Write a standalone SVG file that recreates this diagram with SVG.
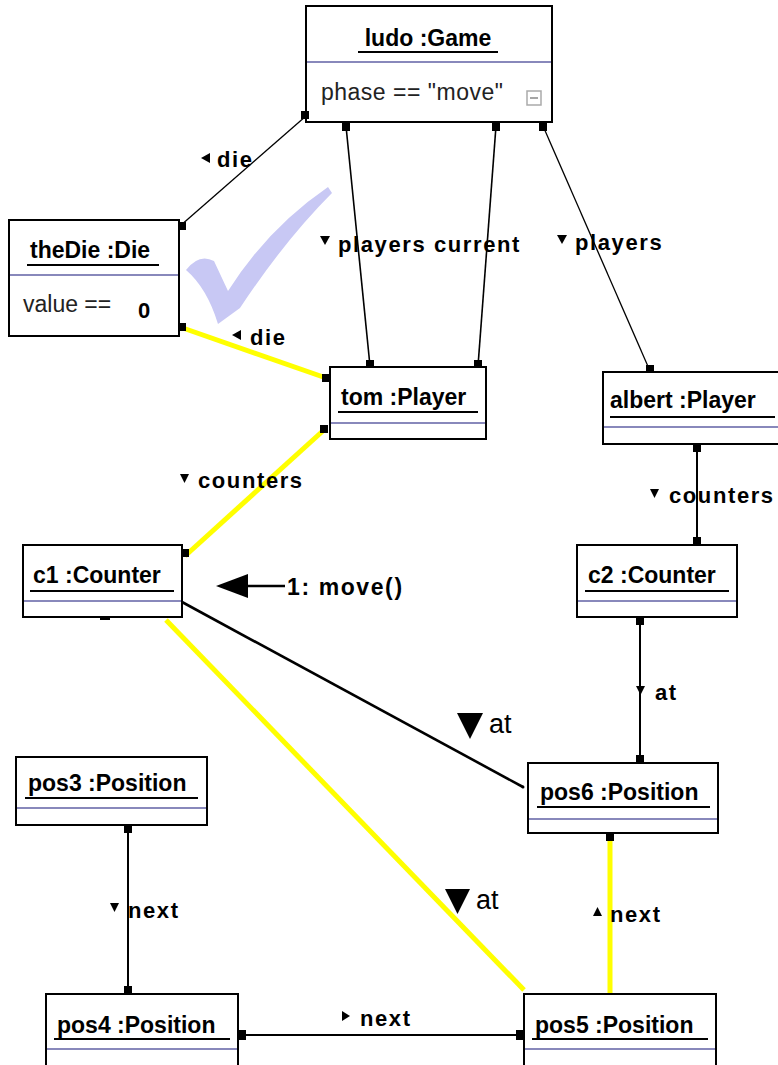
<svg xmlns="http://www.w3.org/2000/svg" width="778" height="1065" viewBox="0 0 778 1065">
<style>
.box{fill:#fff;stroke:#000;stroke-width:2}
.div{stroke:#8888bb;stroke-width:2}
.ul{stroke:#000;stroke-width:2}
.title{font-family:"Liberation Sans",Arial,sans-serif;font-weight:bold;font-size:23px;fill:#000}
.body{font-family:"Liberation Sans",Arial,sans-serif;font-size:23px;fill:#222}
.lbl{font-family:"Liberation Sans",Arial,sans-serif;font-weight:bold;font-size:22px;letter-spacing:1.6px;fill:#000}
.big{font-family:"Liberation Sans",Arial,sans-serif;font-size:27px;fill:#000}
.thin{stroke:#000;stroke-width:1.3;fill:none}
.blk{stroke:#000;stroke-width:2;fill:none}
.yel{stroke:#ffff00;stroke-width:5;fill:none}
.end{fill:#000}
</style>
<rect width="778" height="1065" fill="#fff"/>
<path d="M186,270 Q199,253 214,261 L228,291 Q268,228 328,187 L332,193 Q285,240 240,308 L218,324 Q207,288 186,270 Z" fill="#c8c8f4"/>
<g id="ludo">
<rect class="box" x="306" y="6" width="246" height="116"/>
<line class="div" x1="307" y1="62" x2="551" y2="62"/>
<text class="title" x="428" y="46" text-anchor="middle">ludo :Game</text>
<line class="ul" x1="358" y1="52" x2="498" y2="52"/>
<text class="body" x="321" y="100" style="letter-spacing:0.5px">phase == "move"</text>
<rect x="527" y="91" width="14" height="14" fill="#fff" stroke="#aaa" stroke-width="1.5"/>
<line x1="530" y1="98" x2="538" y2="98" stroke="#888" stroke-width="1.5"/>
</g>
<g id="theDie">
<rect class="box" x="9" y="220" width="170" height="116"/>
<line class="div" x1="10" y1="275" x2="178" y2="275"/>
<text class="title" x="30" y="258">theDie :Die</text>
<line class="ul" x1="27" y1="265" x2="159" y2="265"/>
<text class="body" x="23" y="312">value ==</text>
<text class="title" x="138" y="318" style="font-size:22px">0</text>
</g>
<g id="tom">
<rect class="box" x="330" y="367" width="156" height="72"/>
<line class="div" x1="331" y1="423" x2="485" y2="423"/>
<text class="title" x="341" y="405">tom :Player</text>
<line class="ul" x1="338" y1="412" x2="478" y2="412"/>
</g>
<g id="albert">
<rect class="box" x="603" y="372" width="180" height="72"/>
<line class="div" x1="604" y1="427" x2="778" y2="427"/>
<text class="title" x="610" y="408">albert :Player</text>
<line class="ul" x1="610" y1="417" x2="775" y2="417"/>
</g>
<g id="c1">
<rect class="box" x="23" y="545" width="159" height="72"/>
<line class="div" x1="24" y1="601" x2="181" y2="601"/>
<text class="title" x="33" y="583">c1 :Counter</text>
<line class="ul" x1="30" y1="591" x2="174" y2="591"/>
</g>
<g id="c2">
<rect class="box" x="577" y="545" width="160" height="72"/>
<line class="div" x1="578" y1="601" x2="736" y2="601"/>
<text class="title" x="588" y="583">c2 :Counter</text>
<line class="ul" x1="585" y1="591" x2="729" y2="591"/>
</g>
<g id="pos3">
<rect class="box" x="16" y="757" width="191" height="68"/>
<line class="div" x1="17" y1="808" x2="206" y2="808"/>
<text class="title" x="28" y="791">pos3 :Position</text>
<line class="ul" x1="25" y1="798" x2="198" y2="798"/>
</g>
<g id="pos6">
<rect class="box" x="528" y="763" width="190" height="70"/>
<line class="div" x1="529" y1="819" x2="717" y2="819"/>
<text class="title" x="540" y="800">pos6 :Position</text>
<line class="ul" x1="537" y1="807" x2="710" y2="807"/>
</g>
<g id="pos4">
<rect class="box" x="46" y="994" width="192" height="80"/>
<line class="div" x1="47" y1="1049" x2="237" y2="1049"/>
<text class="title" x="57" y="1033">pos4 :Position</text>
<line class="ul" x1="54" y1="1039" x2="230" y2="1039"/>
</g>
<g id="pos5">
<rect class="box" x="524" y="994" width="192" height="80"/>
<line class="div" x1="525" y1="1049" x2="715" y2="1049"/>
<text class="title" x="535" y="1033">pos5 :Position</text>
<line class="ul" x1="532" y1="1039" x2="708" y2="1039"/>
</g>
<g id="connectors">
<line class="thin" x1="306" y1="116" x2="180" y2="226"/>
<line class="blk" x1="346" y1="126" x2="370" y2="366" style="stroke-width:1.6"/>
<line class="blk" x1="496" y1="126" x2="478" y2="366" style="stroke-width:1.6"/>
<line class="thin" x1="543" y1="126" x2="650" y2="371"/>
<line class="yel" x1="180" y1="327" x2="329" y2="379"/>
<line class="yel" x1="325" y1="429" x2="185" y2="556"/>
<line class="blk" x1="697" y1="445" x2="697" y2="544"/>
<line class="blk" x1="640" y1="618" x2="640" y2="762"/>
<line class="blk" x1="182" y1="602" x2="523" y2="787" style="stroke-width:2.6"/>
<line class="yel" x1="166" y1="620" x2="524" y2="990"/>
<line class="yel" x1="610" y1="838" x2="610" y2="993"/>
<line class="blk" x1="128" y1="826" x2="128" y2="993"/>
<line class="blk" x1="239" y1="1035" x2="523" y2="1035"/>
<rect class="end" x="301" y="111" width="8" height="8"/>
<rect class="end" x="178" y="222" width="8" height="8"/>
<rect class="end" x="342" y="123" width="8" height="8"/>
<rect class="end" x="366" y="360" width="8" height="8"/>
<rect class="end" x="492" y="123" width="8" height="8"/>
<rect class="end" x="474" y="360" width="8" height="8"/>
<rect class="end" x="539" y="123" width="8" height="8"/>
<rect class="end" x="646" y="365" width="8" height="8"/>
<rect class="end" x="178" y="323" width="8" height="8"/>
<rect class="end" x="322" y="374" width="8" height="8"/>
<rect class="end" x="320" y="425" width="8" height="8"/>
<rect class="end" x="181" y="549" width="8" height="8"/>
<rect class="end" x="693" y="444" width="8" height="8"/>
<rect class="end" x="693" y="537" width="8" height="8"/>
<rect class="end" x="636" y="617" width="8" height="8"/>
<rect class="end" x="636" y="755" width="8" height="8"/>
<rect class="end" x="606" y="833" width="8" height="8"/>
<rect class="end" x="124" y="825" width="8" height="8"/>
<rect class="end" x="124" y="986" width="8" height="8"/>
<rect class="end" x="238" y="1030" width="8" height="10"/>
<rect class="end" x="516" y="1030" width="8" height="10"/>
<rect class="end" x="100" y="617" width="10" height="3"/>
<circle class="end" cx="523" cy="787" r="1.5"/>
</g>
<g id="labels">
<path d="M201,158 L210,153 L210,163 Z" class="end"/>
<text class="lbl" x="217" y="167">die</text>
<path d="M320,236 L330,236 L325,245 Z" class="end"/>
<text class="lbl" x="338" y="252">players current</text>
<path d="M557,235 L567,235 L562,244 Z" class="end"/>
<text class="lbl" x="575" y="250">players</text>
<path d="M232,335 L241,330 L241,340 Z" class="end"/>
<text class="lbl" x="250" y="345">die</text>
<path d="M180,474 L189,474 L184.5,483 Z" class="end"/>
<text class="lbl" x="198" y="488">counters</text>
<path d="M650,489 L659,489 L654.5,498 Z" class="end"/>
<text class="lbl" x="669" y="503">counters</text>
<path d="M636,686 L645,686 L640.5,695 Z" class="end"/>
<text class="lbl" x="655" y="700">at</text>
<path d="M457,713 L483,713 L470,739 Z" class="end"/>
<text class="big" x="489" y="733">at</text>
<path d="M445,889 L470,889 L457.5,914 Z" class="end"/>
<text class="big" x="476" y="909">at</text>
<path d="M110,903 L119,903 L114.5,912 Z" class="end"/>
<text class="lbl" x="128" y="918">next</text>
<path d="M593,916 L602,916 L597.5,907 Z" class="end"/>
<text class="lbl" x="610" y="922">next</text>
<path d="M342,1011 L350,1016 L342,1021 Z" class="end"/>
<text class="lbl" x="360" y="1026">next</text>
<line x1="246" y1="586" x2="285" y2="586" stroke="#000" stroke-width="2.5"/>
<path d="M216,586 L248,574 L248,598 Z" class="end"/>
<text class="lbl" x="287" y="595" style="font-size:23px">1: move()</text>
</g>
</svg>
